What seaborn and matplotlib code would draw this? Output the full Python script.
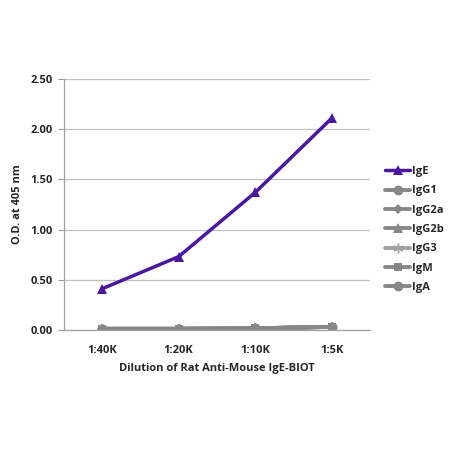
import numpy as np
import pandas as pd
import seaborn as sns
import matplotlib.pyplot as plt

# valeurs
dilutions = ["1:40K", "1:20K", "1:10K", "1:5K"]
series = ["IgE", "IgG1", "IgG2a", "IgG2b", "IgG3", "IgM", "IgA"]
ige = [0.41, 0.73, 1.37, 2.11]
igg1 = [0.01, 0.01, 0.015, 0.03]
igg2a = [0.01, 0.01, 0.015, 0.03]
igg2b = [0.01, 0.01, 0.015, 0.03]
igg3 = [0.01, 0.01, 0.015, 0.03]
igm = [0.01, 0.01, 0.015, 0.03]
iga = [0.01, 0.01, 0.015, 0.03]
valeurs = [ige, igg1, igg2a, igg2b, igg3, igm, iga]

couleurs = ["#4b16a0", "#878787", "#878787", "#878787", "#a0a0a0", "#878787", "#878787"]
marqueurs = ["^", "o", "D", "^", (6, 2, 0), "s", "o"]
tailles = [7, 7, 5, 7, 7, 6, 7]

sns.set_style("white")
plt.rcParams['font.family'] = ['Open Sans', 'DejaVu Sans']
plt.rcParams['font.weight'] = 'bold'

fig = plt.figure(figsize=(4.5, 4.5), dpi=100)
ax = fig.add_axes([0.142, 0.267, 0.68, 0.557])

# gris d'abord, IgE par dessus
for i in range(len(series) - 1, -1, -1):
    df = pd.DataFrame({"Dilution": dilutions, "OD": valeurs[i]})
    est_etoile = isinstance(marqueurs[i], tuple)
    sns.lineplot(data=df, x="Dilution", y="OD", color=couleurs[i], marker=marqueurs[i],
                 linewidth=2.8 if i > 0 else 2.5, markersize=tailles[i],
                 markeredgewidth=1.0 if est_etoile else 0,
                 markeredgecolor=couleurs[i],
                 label=series[i], ax=ax, sort=False)

ax.set_xlim(-0.5, 3.5)
ax.set_ylim(0, 2.5)
ax.set_yticks(np.arange(0, 2.51, 0.5))
ax.set_yticklabels([f"{v:.2f}" for v in np.arange(0, 2.51, 0.5)], fontsize=8, fontweight='bold')
ax.set_xticks(range(4))
ax.set_xticklabels(dilutions, fontsize=8, fontweight='bold')
ax.set_xticks([-0.5, 0.5, 1.5, 2.5, 3.5], minor=True)
ax.tick_params(axis='x', which='major', length=0, pad=11)
ax.tick_params(axis='x', which='minor', length=4, color='#999999', direction='out')
ax.tick_params(axis='y', length=4, color='#999999', direction='out', pad=4, left=True)
ax.yaxis.grid(True, color='#c0c0c0', linewidth=0.9)
ax.set_axisbelow(True)
for s in ["top", "right"]:
    ax.spines[s].set_visible(False)
for s in ["left", "bottom"]:
    ax.spines[s].set_color('#a0a0a0')
    ax.spines[s].set_linewidth(0.9)

ax.set_xlabel("Dilution of Rat Anti-Mouse IgE-BIOT", fontsize=8, fontweight='bold', labelpad=5)
ax.set_ylabel("O.D. at 405 nm", fontsize=8, fontweight='bold', labelpad=5)

poignees, etiquettes = ax.get_legend_handles_labels()
ordre = [etiquettes.index(n) for n in series]
ax.legend([poignees[i] for i in ordre], [etiquettes[i] for i in ordre],
          loc='center left', bbox_to_anchor=(1.0, 0.4), frameon=False,
          borderaxespad=1.0, borderpad=0.4,
          prop={'size': 8, 'weight': 'bold'}, handlelength=2.2, handletextpad=0.15,
          labelspacing=0.75)

fig.savefig("out.png", dpi=100)
